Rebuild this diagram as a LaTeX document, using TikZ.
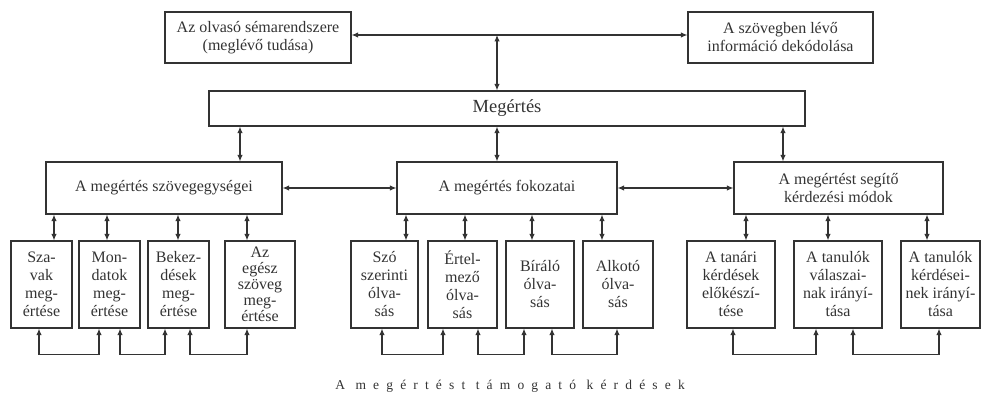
\documentclass[tikz,border=0pt]{standalone}
\usepackage{fontspec}
\setmainfont{Liberation Serif}
\newfontfamily\spacedfont[LetterSpace=53]{Liberation Serif}
\usetikzlibrary{arrows.meta}
\definecolor{ink}{HTML}{333333}
\tikzset{
  box/.style={draw=ink, line width=1.2pt, text=ink, inner sep=0pt, align=center,
    font=\fontsize{16}{18}\selectfont},
  dbl/.style={draw=ink, line width=1.1pt,
    {Latex[length=6.5pt,width=5.5pt]}-{Latex[length=6.5pt,width=5.5pt]}},
}
\begin{document}
\begin{tikzpicture}[x=1pt,y=-1pt]
\useasboundingbox (0,0) rectangle (981,403);

% top level
\node[box, minimum width=186pt, minimum height=51pt] (schema) at (258,37.5)
  {Az olvasó sémarendszere\\(meglévő tudása)};
\node[box, minimum width=185pt, minimum height=51pt] (decode) at (780.5,37.5)
  {A szövegben lévő\\információ dekódolása};
\node[box, minimum width=596pt, minimum height=35pt, font=\fontsize{18.5}{20}\selectfont]
  (comp) at (507,108.5) {Megértés};

% middle level
\node[box, minimum width=236pt, minimum height=52pt] (units) at (164,188)
  {A megértés szövegegységei};
\node[box, minimum width=220pt, minimum height=52pt] (levels) at (507,188)
  {A megértés fokozatai};
\node[box, minimum width=209pt, minimum height=52pt] (modes) at (838.5,188)
  {A megértést segítő\\kérdezési módok};

% bottom level
\tikzset{leaf/.style={box, minimum height=87pt}}
\node[leaf, minimum width=61pt] (u1) at (41.5,284.5) {Sza-\\vak\\meg-\\értése};
\node[leaf, minimum width=61pt] (u2) at (109.5,284.5) {Mon-\\datok\\meg-\\értése};
\node[leaf, minimum width=61pt] (u3) at (178.5,284.5) {Bekez-\\dések\\meg-\\értése};
\node[leaf, minimum width=70pt, font=\fontsize{16}{16}\selectfont] (u4) at (260,284.5)
  {Az\\egész\\szöveg\\meg-\\értése};

\node[leaf, minimum width=67pt] (l1) at (384.5,284.5) {Szó\\szerinti\\ólva-\\sás};
\node[leaf, minimum width=69pt] (l2) at (462.5,284.5) {Értel-\\mező\\ólva-\\sás};
\node[leaf, minimum width=68pt] (l3) at (540,284.5) {Bíráló\\ólva-\\sás};
\node[leaf, minimum width=70pt] (l4) at (618,284.5) {Alkotó\\ólva-\\sás};

\node[leaf, minimum width=88pt] (m1) at (731,284.5) {A tanári\\kérdések\\előkészí-\\tése};
\node[leaf, minimum width=88pt] (m2) at (838,284.5) {A tanulók\\válaszai-\\nak irányí-\\tása};
\node[leaf, minimum width=79pt] (m3) at (940.5,284.5) {A tanulók\\kérdései-\\nek irányí-\\tása};

% caption
\node[text=ink, font=\spacedfont\fontsize{13.5}{15}\selectfont] (cap) at (510,386)
  {A megértést támogató kérdések};

% top connections
\coordinate (hub) at (497,35);
\draw[dbl] (schema.east |- hub) -- (decode.west |- hub);
\draw[dbl] (hub) -- (comp.north -| hub);

% comprehension to middle level
\draw[dbl] (comp.south -| 240,0) -- (units.north -| 240,0);
\draw[dbl] (comp.south -| 497,0) -- (levels.north -| 497,0);
\draw[dbl] (comp.south -| 783,0) -- (modes.north -| 783,0);

% middle level side links
\draw[dbl] (units.east) -- (levels.west);
\draw[dbl] (levels.east) -- (modes.west);

% middle to bottom level
\draw[dbl] (units.south -| 54,0) -- (u1.north -| 54,0);
\draw[dbl] (units.south -| 107,0) -- (u2.north -| 107,0);
\draw[dbl] (units.south -| 178,0) -- (u3.north -| 178,0);
\draw[dbl] (units.south -| 247,0) -- (u4.north -| 247,0);

\draw[dbl] (levels.south -| 406,0) -- (l1.north -| 406,0);
\draw[dbl] (levels.south -| 465,0) -- (l2.north -| 465,0);
\draw[dbl] (levels.south -| 532,0) -- (l3.north -| 532,0);
\draw[dbl] (levels.south -| 602,0) -- (l4.north -| 602,0);

\draw[dbl] (modes.south -| 746,0) -- (m1.north -| 746,0);
\draw[dbl] (modes.south -| 828,0) -- (m2.north -| 828,0);
\draw[dbl] (modes.south -| 927,0) -- (m3.north -| 927,0);

% links between neighbouring leaves
\draw[dbl] (u1.south -| 39,0) -- ++(0,26) -| (u2.south -| 99,0);
\draw[dbl] (u2.south -| 120,0) -- ++(0,26) -| (u3.south -| 165,0);
\draw[dbl] (u3.south -| 190,0) -- ++(0,26) -| (u4.south -| 247,0);

\draw[dbl] (l1.south -| 382,0) -- ++(0,26) -| (l2.south -| 443,0);
\draw[dbl] (l2.south -| 478,0) -- ++(0,26) -| (l3.south -| 524,0);
\draw[dbl] (l3.south -| 552,0) -- ++(0,26) -| (l4.south -| 617,0);

\draw[dbl] (m1.south -| 733,0) -- ++(0,26) -| (m2.south -| 816,0);
\draw[dbl] (m2.south -| 853,0) -- ++(0,26) -| (m3.south -| 939,0);
\end{tikzpicture}
\end{document}
